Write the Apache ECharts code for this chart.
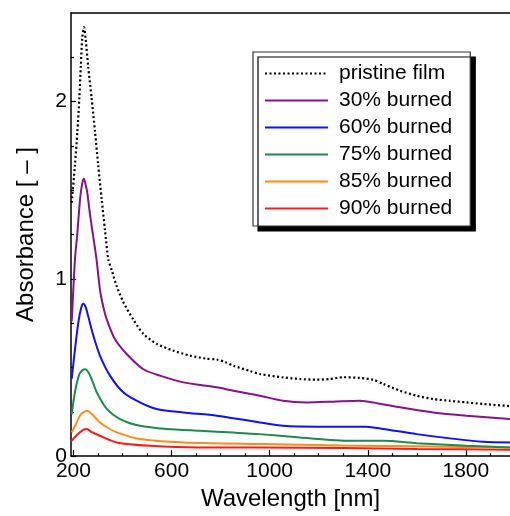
<!DOCTYPE html>
<html>
<head>
<meta charset="utf-8">
<script src="https://cdn.jsdelivr.net/npm/echarts@6/dist/echarts.min.js"></script>
<style>
html,body{margin:0;padding:0;background:#fff;}
#chart{width:510px;height:516px;}
</style>
</head>
<body>
<div id="chart"></div>
<script>
const seriesNames = ['pristine film','30% burned','60% burned','75% burned','85% burned','90% burned'];
const pristine = [[193,1.43],[206,1.64],[216,1.83],[224,2.02],[230,2.2],[236,2.36],[243,2.42],[250,2.35],[260,2.2],[274,2.02],[288,1.83],[301,1.64],[315,1.45],[329,1.27],[342,1.11],[356,1.05],[376,0.96],[403,0.87],[444,0.77],[485,0.69],[539,0.633],[607,0.595],[675,0.567],[740,0.55],[784,0.545],[820,0.53],[852,0.51],[920,0.48],[960,0.463],[1055,0.444],[1124,0.435],[1192,0.431],[1246,0.435],[1300,0.445],[1368,0.441],[1422,0.431],[1463,0.407],[1531,0.369],[1599,0.341],[1667,0.322],[1735,0.312],[1803,0.303],[1871,0.294],[1980,0.282]];
const burned30 = [[193,0.76],[206,1.11],[216,1.26],[227,1.45],[236,1.54],[243,1.565],[250,1.53],[256,1.49],[266,1.38],[274,1.30],[288,1.17],[295,1.10],[308,0.94],[322,0.84],[336,0.77],[369,0.66],[417,0.576],[485,0.49],[553,0.454],[648,0.416],[784,0.388],[852,0.369],[960,0.341],[1055,0.312],[1151,0.303],[1259,0.307],[1368,0.312],[1422,0.303],[1531,0.275],[1667,0.246],[1803,0.228],[1980,0.21]];
const burned60 = [[193,0.435],[206,0.60],[220,0.755],[232,0.84],[240,0.86],[250,0.84],[260,0.79],[281,0.68],[308,0.567],[349,0.454],[403,0.36],[471,0.303],[539,0.266],[648,0.246],[784,0.228],[960,0.19],[1055,0.171],[1192,0.166],[1395,0.166],[1463,0.153],[1599,0.124],[1735,0.10],[1871,0.081],[1980,0.077]];
const burned75 = [[193,0.237],[206,0.36],[224,0.463],[240,0.488],[250,0.49],[262,0.47],[274,0.435],[295,0.36],[336,0.266],[390,0.209],[471,0.171],[580,0.153],[716,0.143],[852,0.133],[960,0.124],[1124,0.105],[1327,0.086],[1463,0.086],[1599,0.073],[1803,0.058],[1980,0.049]];
const burned85 = [[193,0.134],[210,0.18],[230,0.235],[256,0.256],[280,0.23],[308,0.19],[340,0.16],[376,0.134],[471,0.096],[648,0.077],[960,0.068],[1300,0.06],[1600,0.055],[1980,0.048]];
const burned90 = [[193,0.086],[215,0.12],[240,0.148],[254,0.153],[275,0.135],[308,0.115],[376,0.077],[512,0.058],[716,0.049],[960,0.049],[1300,0.045],[1600,0.04],[1980,0.036]];
const xMajorTicks = [200,600,1000,1400,1800];
const xMinorTicks = [300,400,500,700,800,900,1100,1200,1300,1500,1600,1700,1900];
const yMajorTicks = [0,1,2];
const yMinorTicks = [0.25,0.5,0.75,1.25,1.5,1.75,2.25];

const colors = ['#000000','#87138C','#1010FF','#1E8A4C','#FF8C1A','#FF1A1A'];
const allData = [pristine,burned30,burned60,burned75,burned85,burned90];
const FONT = "'Liberation Sans', Arial, sans-serif";

const chart = echarts.init(document.getElementById('chart'), null, {renderer:'canvas'});
const axisLine = {show:true, lineStyle:{color:'#000', width:1.5}};
chart.setOption({
  animation:false,
  backgroundColor:'#fff',
  grid:{left:71, right:0, top:13, bottom:59, containLabel:false},
  legend:{
    orient:'vertical', left:253, top:52,
    data: seriesNames,
    itemWidth:63, itemHeight:14, itemGap:6,
    padding:[11,18,7,11],
    backgroundColor:'#fff', borderColor:'#333', borderWidth:1.2,
    shadowColor:'#000', shadowBlur:0, shadowOffsetX:5, shadowOffsetY:5,
    itemStyle:{opacity:0},
    textStyle:{fontFamily:FONT, fontSize:21, color:'#000', lineHeight:21, padding:[0,0,0,6]}
  },
  xAxis:[
    {type:'value', min:190, max:1980, position:'bottom',
     axisLine:axisLine,
     axisTick:{show:true, inside:true, length:6, customValues:xMajorTicks, lineStyle:{color:'#000', width:1.2}},
     axisLabel:{customValues:xMajorTicks, formatter:v=>String(v), fontFamily:FONT, fontSize:21, color:'#000', margin:5},
     splitLine:{show:false},
     name:'Wavelength [nm]', nameLocation:'middle', nameGap:28,
     nameTextStyle:{fontFamily:FONT, fontSize:24, color:'#000'}},
    {type:'value', min:190, max:1980, position:'bottom',
     axisLine:{show:false},
     axisTick:{show:true, inside:true, length:3, customValues:xMinorTicks, lineStyle:{color:'#000', width:1.2}},
     axisLabel:{show:false}, splitLine:{show:false}},
    {type:'value', min:190, max:1980, position:'top',
     axisLine:axisLine, axisTick:{show:false}, axisLabel:{show:false}, splitLine:{show:false}}
  ],
  yAxis:[
    {type:'value', min:0, max:2.5, position:'left',
     axisLine:axisLine,
     axisTick:{show:true, inside:true, length:5, customValues:yMajorTicks, lineStyle:{color:'#000', width:1.2}},
     axisLabel:{customValues:yMajorTicks, formatter:v=>String(v), fontFamily:FONT, fontSize:21, color:'#000', margin:4},
     splitLine:{show:false},
     name:'Absorbance [ \u2013 ]', nameLocation:'middle', nameGap:33,
     nameTextStyle:{fontFamily:FONT, fontSize:24, color:'#000'}},
    {type:'value', min:0, max:2.5, position:'left',
     axisLine:{show:false},
     axisTick:{show:true, inside:true, length:3, customValues:yMinorTicks, lineStyle:{color:'#000', width:1.2}},
     axisLabel:{show:false}, splitLine:{show:false}}
  ],
  series: seriesNames.map((n,i)=>({
    name:n, type:'line', data:allData[i], xAxisIndex:0, yAxisIndex:0,
    symbol:'none', smooth:0.25, z: 10-i,
    lineStyle: i===0 ? {color:colors[i], width:2.2, type:[2,2.5]} : {color:colors[i], width:2},
    itemStyle:{color:colors[i]}
  }))
});
</script>
</body>
</html>
